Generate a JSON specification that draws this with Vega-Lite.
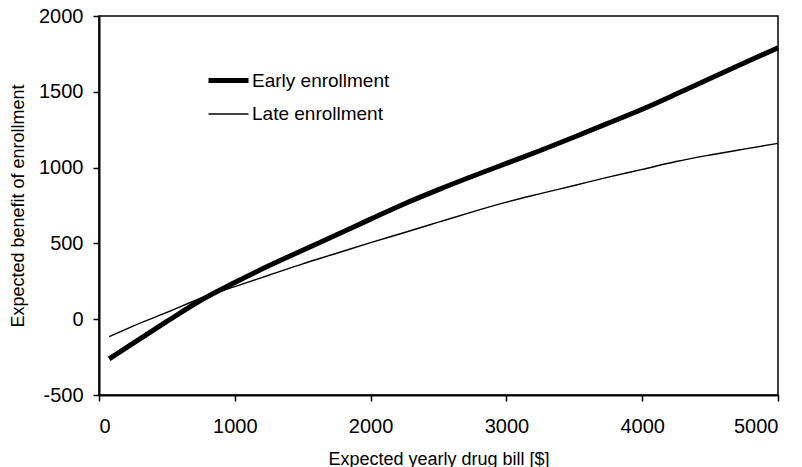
{
  "$schema": "https://vega.github.io/schema/vega-lite/v6.json",
  "width": 679,
  "height": 379,
  "autosize": {"type": "none"},
  "padding": {"left": 99, "top": 16, "right": 24, "bottom": 72},
  "background": "white",
  "config": {
    "font": "Liberation Sans",
    "view": {"stroke": "black", "strokeWidth": 1.5},
    "axis": {
      "domainColor": "black",
      "domainWidth": 2,
      "tickColor": "black",
      "tickWidth": 1.5,
      "tickSize": 6,
      "labelColor": "black",
      "titleColor": "black",
      "labelFont": "Liberation Sans",
      "titleFont": "Liberation Sans",
      "labelFontSize": 20,
      "titleFontSize": 18,
      "titleFontWeight": "normal",
      "labelExpr": "datum.value + ''",
      "grid": false
    }
  },
  "data": {
    "values": [
      {"series": "Early enrollment", "bill": 75, "benefit": -262},
      {"series": "Early enrollment", "bill": 250, "benefit": -160},
      {"series": "Early enrollment", "bill": 500, "benefit": -15},
      {"series": "Early enrollment", "bill": 750, "benefit": 125},
      {"series": "Early enrollment", "bill": 1000, "benefit": 242},
      {"series": "Early enrollment", "bill": 1250, "benefit": 352},
      {"series": "Early enrollment", "bill": 1500, "benefit": 455},
      {"series": "Early enrollment", "bill": 1750, "benefit": 557},
      {"series": "Early enrollment", "bill": 2000, "benefit": 660},
      {"series": "Early enrollment", "bill": 2250, "benefit": 762},
      {"series": "Early enrollment", "bill": 2500, "benefit": 855},
      {"series": "Early enrollment", "bill": 2750, "benefit": 943},
      {"series": "Early enrollment", "bill": 3000, "benefit": 1028},
      {"series": "Early enrollment", "bill": 3250, "benefit": 1113},
      {"series": "Early enrollment", "bill": 3500, "benefit": 1202},
      {"series": "Early enrollment", "bill": 3750, "benefit": 1293},
      {"series": "Early enrollment", "bill": 4000, "benefit": 1385},
      {"series": "Early enrollment", "bill": 4250, "benefit": 1485},
      {"series": "Early enrollment", "bill": 4500, "benefit": 1588},
      {"series": "Early enrollment", "bill": 4750, "benefit": 1690},
      {"series": "Early enrollment", "bill": 5000, "benefit": 1790},
      {"series": "Late enrollment", "bill": 75, "benefit": -115},
      {"series": "Late enrollment", "bill": 250, "benefit": -45},
      {"series": "Late enrollment", "bill": 500, "benefit": 45},
      {"series": "Late enrollment", "bill": 750, "benefit": 138},
      {"series": "Late enrollment", "bill": 1000, "benefit": 215},
      {"series": "Late enrollment", "bill": 1250, "benefit": 290},
      {"series": "Late enrollment", "bill": 1500, "benefit": 365},
      {"series": "Late enrollment", "bill": 1750, "benefit": 435},
      {"series": "Late enrollment", "bill": 2000, "benefit": 505},
      {"series": "Late enrollment", "bill": 2250, "benefit": 572},
      {"series": "Late enrollment", "bill": 2500, "benefit": 640},
      {"series": "Late enrollment", "bill": 2750, "benefit": 708},
      {"series": "Late enrollment", "bill": 3000, "benefit": 772},
      {"series": "Late enrollment", "bill": 3250, "benefit": 828},
      {"series": "Late enrollment", "bill": 3500, "benefit": 882},
      {"series": "Late enrollment", "bill": 3750, "benefit": 937},
      {"series": "Late enrollment", "bill": 4000, "benefit": 988},
      {"series": "Late enrollment", "bill": 4250, "benefit": 1040},
      {"series": "Late enrollment", "bill": 4500, "benefit": 1083},
      {"series": "Late enrollment", "bill": 4750, "benefit": 1122},
      {"series": "Late enrollment", "bill": 5000, "benefit": 1160}
    ]
  },
  "mark": {"type": "line", "interpolate": "monotone", "color": "black", "strokeCap": "butt"},
  "encoding": {
    "x": {
      "field": "bill",
      "type": "quantitative",
      "scale": {"domain": [0, 5000], "nice": false},
      "axis": {
        "values": [0, 1000, 2000, 3000, 4000, 5000],
        "title": "Expected yearly drug bill [$]",
        "labelPadding": 15,
        "titleBaseline": "alphabetic",
        "titleY": 69
      }
    },
    "y": {
      "field": "benefit",
      "type": "quantitative",
      "scale": {"domain": [-500, 2000], "nice": false},
      "axis": {
        "values": [-500, 0, 500, 1000, 1500, 2000],
        "title": "Expected benefit of enrollment",
        "labelPadding": 10,
        "titleBaseline": "alphabetic",
        "titleX": -76
      }
    },
    "detail": {"field": "series"},
    "strokeWidth": {
      "field": "series",
      "type": "nominal",
      "scale": {"domain": ["Early enrollment", "Late enrollment"], "range": [5, 1.4]},
      "legend": {
        "title": null,
        "orient": "none",
        "legendX": 117,
        "legendY": 52,
        "symbolType": "M-2,0H2",
        "symbolSize": 400,
        "symbolStrokeColor": "black",
        "symbolFillColor": "transparent",
        "labelFont": "Liberation Sans",
        "labelFontSize": 19,
        "labelColor": "black",
        "labelOffset": 11,
        "rowPadding": 12
      }
    }
  }
}
